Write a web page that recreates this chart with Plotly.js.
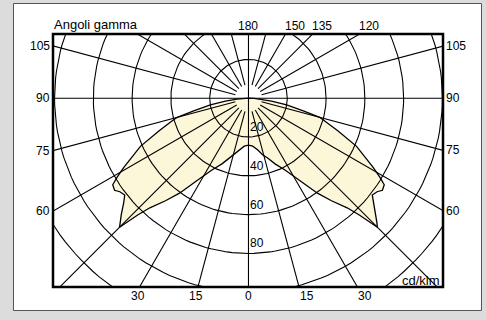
<!DOCTYPE html>
<html>
<head>
<meta charset="utf-8">
<script src="https://cdn.plot.ly/plotly-3.0.1.min.js"></script>
<style>
  html, body { margin: 0; padding: 0; background: #dcdcdc; }
  #chart { width: 486px; height: 320px; }
</style>
</head>
<body>
<div id="chart"></div>
<script>
// ---- Data (one half of the symmetric distribution, cd/klm vs gamma angle) ----
const gammaDeg  = [0, 5, 10, 14, 18, 22, 27, 32, 36, 39, 42, 43.5, 45, 46, 47.5, 50, 52, 54, 55.5, 57.5, 59, 61, 63, 66, 70, 73, 75, 77, 80, 83, 86, 88, 90];
const intensity = [24.2, 24.8, 27, 30, 32.5, 36.5, 41.5, 50, 60.5, 68, 76, 83, 94, 92, 89, 84, 81, 82, 83.8, 83, 79, 73.5, 68, 61, 49, 42, 38, 29, 20, 12, 6, 3, 0];

// grid definition
const ringValues = [20, 40, 60, 80, 100, 120, 140];
const gridAngles = [15, 30, 45, 60, 75, 105, 120, 135, 150, 165];
const ringLabels = [20, 40, 60, 80];
const topLabels = [180, 150, 135, 120];
const sideLabels = [105, 90, 75, 60];
const bottomLabels = [-30, -15, 0, 15, 30];
const titleText = "Angoli gamma";
const unitText = "cd/klm";

// ---- Layout geometry ----
const W = 486, H = 320;
const M = {l: 53, r: 43, t: 34, b: 33};
const xRange = [-100.8, 100.3];
const yRange = [-97.3, 33.1];
const pw = W - M.l - M.r, ph = H - M.t - M.b;
const px2paperX = p => (p - M.l) / pw;
const px2paperY = p => (H - M.b - p) / ph;

const rad = d => d * Math.PI / 180;
function pt(g, r, side) {
  return [side * r * Math.sin(rad(g)), -r * Math.cos(rad(g))];
}

const traces = [];

// distribution polygon: left half (gamma 90 -> 0), right half (0 -> 90)
const cx = [], cy = [];
for (let i = gammaDeg.length - 1; i >= 0; i--) {
  const p = pt(gammaDeg[i], intensity[i], -1); cx.push(p[0]); cy.push(p[1]);
}
for (let i = 1; i < gammaDeg.length; i++) {
  const p = pt(gammaDeg[i], intensity[i], 1); cx.push(p[0]); cy.push(p[1]);
}
traces.push({x: cx, y: cy, mode: 'lines', fill: 'toself', fillcolor: '#fdf7d9',
  line: {width: 0, color: 'rgba(0,0,0,0)'}, hoverinfo: 'skip', showlegend: false});

const gridLine = {color: '#000', width: 1.1};
// rings
ringValues.forEach(r => {
  const xs = [], ys = [];
  for (let a = 0; a <= 360; a += 2) { xs.push(r * Math.cos(rad(a))); ys.push(r * Math.sin(rad(a))); }
  traces.push({x: xs, y: ys, mode: 'lines', line: gridLine, hoverinfo: 'skip', showlegend: false});
});
// radial lines
gridAngles.forEach(g => {
  [-1, 1].forEach(s => {
    const a = pt(g, 7, s), b = pt(g, 260, s);
    traces.push({x: [a[0], b[0]], y: [a[1], b[1]], mode: 'lines', line: gridLine, hoverinfo: 'skip', showlegend: false});
  });
});
// axes through center (gamma 0/180 and 90)
traces.push({x: [0, 0], y: [-200, 200], mode: 'lines', line: gridLine, hoverinfo: 'skip', showlegend: false});
traces.push({x: [-200, 200], y: [0, 0], mode: 'lines', line: gridLine, hoverinfo: 'skip', showlegend: false});

// outline of the distribution
traces.push({x: cx, y: cy, mode: 'lines', line: {color: '#000', width: 1.3},
  hoverinfo: 'skip', showlegend: false});

// ---- Annotations ----
const font = {family: 'Liberation Sans, Arial, sans-serif', size: 12, color: '#000'};
const fontTxt = {family: 'Liberation Sans, Arial, sans-serif', size: 13, color: '#000'};
const ann = [];
ann.push({text: titleText, xref: 'paper', yref: 'paper', x: 0, y: 1, xanchor: 'left', yanchor: 'bottom',
  xshift: -1, yshift: 0, showarrow: false, font: fontTxt});
ann.push({text: unitText, xref: 'paper', yref: 'paper', x: 1, y: 0, xanchor: 'right', yanchor: 'bottom',
  xshift: -1, yshift: -3, showarrow: false, font: fontTxt});
// top labels
topLabels.forEach(g => {
  const x = (g === 180) ? 0 : -yRange[1] * Math.tan(rad(g));
  ann.push({text: String(g), xref: 'x', yref: 'paper', x: x, y: 1, xanchor: g === 180 ? 'center' : 'left',
    yanchor: 'bottom', xshift: g === 180 ? 0 : -3, yshift: -1, showarrow: false, font: font});
});
// side labels
sideLabels.forEach(g => {
  const cot = Math.cos(rad(g)) / Math.sin(rad(g));
  ann.push({text: String(g), xref: 'paper', yref: 'y', x: 0, y: xRange[0] * cot, xanchor: 'right', yanchor: 'middle',
    xshift: -1, showarrow: false, font: font});
  ann.push({text: String(g), xref: 'paper', yref: 'y', x: 1, y: -xRange[1] * cot, xanchor: 'left', yanchor: 'middle',
    xshift: 1, showarrow: false, font: font});
});
// bottom labels
bottomLabels.forEach(sg => {
  const x = -yRange[0] * Math.tan(rad(sg));
  ann.push({text: String(Math.abs(sg)), xref: 'x', yref: 'paper', x: x, y: 0,
    xanchor: sg <= 0 ? 'center' : 'left', yanchor: 'top',
    xshift: sg < 0 ? -2 : (sg === 0 ? 0 : -1), yshift: 0, showarrow: false, font: font});
});
// ring value labels on the vertical axis
ringLabels.forEach(r => {
  ann.push({text: String(r), xref: 'x', yref: 'y', x: 0, y: -r, xanchor: 'left', yanchor: 'bottom',
    xshift: 0, yshift: 1, showarrow: false, font: font});
});

const layout = {
  width: W, height: H,
  margin: M,
  paper_bgcolor: '#dcdcdc',
  plot_bgcolor: 'rgba(0,0,0,0)',
  showlegend: false,
  xaxis: {range: xRange, visible: false, fixedrange: true},
  yaxis: {range: yRange, visible: false, fixedrange: true},
  annotations: ann,
  shapes: [
    {type: 'rect', xref: 'paper', yref: 'paper', layer: 'below',
      x0: px2paperX(13.5), x1: px2paperX(481.5), y0: px2paperY(310.5), y1: px2paperY(3.5),
      fillcolor: '#ffffff', line: {color: '#555', width: 1}},
    {type: 'rect', xref: 'paper', yref: 'paper', layer: 'above',
      x0: 0, x1: 1, y0: 0, y1: 1, line: {color: '#000', width: 2.5}}
  ]
};

Plotly.newPlot('chart', traces, layout, {staticPlot: true, displayModeBar: false});
</script>
</body>
</html>
